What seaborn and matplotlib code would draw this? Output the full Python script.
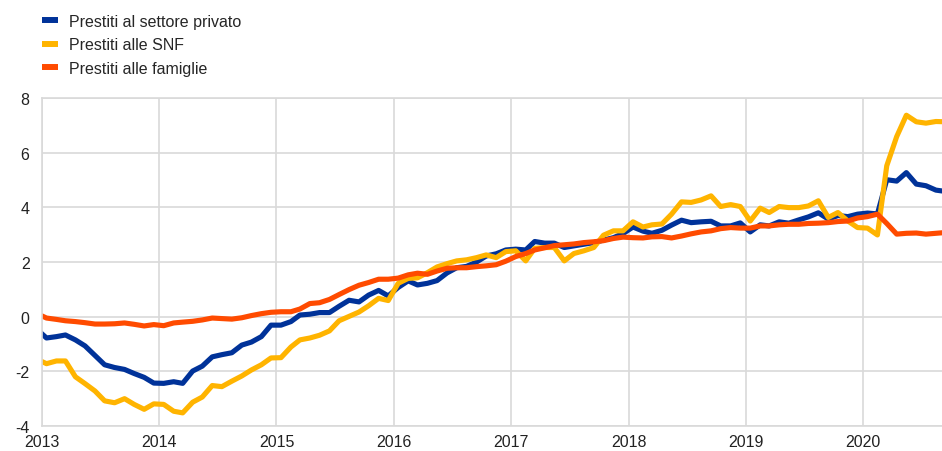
import pandas as pd
import matplotlib
matplotlib.use('Agg')
import matplotlib.pyplot as plt
import matplotlib.dates as mdates
from matplotlib.lines import Line2D
import seaborn as sns

# monthly observations, Dec 2012 - Sep 2020 (plotted mid-month)
months = pd.date_range('2012-12-01', '2020-09-01', freq='MS') + pd.Timedelta(days=14)

privato = [-0.45,
           -0.78, -0.73, -0.67, -0.85, -1.07, -1.42, -1.76, -1.86, -1.93, -2.08, -2.22, -2.43,
           -2.44, -2.38, -2.44, -1.99, -1.81, -1.47, -1.39, -1.32, -1.04, -0.93, -0.73, -0.31,
           -0.31, -0.18, 0.06, 0.09, 0.15, 0.15, 0.38, 0.60, 0.54, 0.79, 0.96, 0.76,
           1.07, 1.31, 1.16, 1.22, 1.32, 1.60, 1.79, 1.84, 2.00, 2.22, 2.30, 2.44,
           2.47, 2.44, 2.75, 2.69, 2.69, 2.53, 2.59, 2.65, 2.71, 2.80, 2.89, 3.04,
           3.28, 3.13, 3.05, 3.16, 3.35, 3.53, 3.44, 3.47, 3.49, 3.32, 3.32, 3.43,
           3.10, 3.36, 3.32, 3.47, 3.42, 3.54, 3.65, 3.80, 3.57, 3.70, 3.66, 3.75,
           3.79, 3.76, 5.01, 4.96, 5.27, 4.85, 4.79, 4.63, 4.58]

snf = [-1.55,
       -1.72, -1.62, -1.62, -2.20, -2.45, -2.72, -3.08, -3.15, -3.00, -3.21, -3.39, -3.19,
       -3.21, -3.46, -3.52, -3.13, -2.94, -2.52, -2.56, -2.36, -2.17, -1.95, -1.76, -1.51,
       -1.50, -1.11, -0.85, -0.78, -0.68, -0.52, -0.15, 0.01, 0.17, 0.40, 0.67, 0.59,
       1.22, 1.40, 1.42, 1.61, 1.82, 1.94, 2.04, 2.08, 2.16, 2.26, 2.16, 2.38,
       2.41, 2.04, 2.50, 2.53, 2.53, 2.04, 2.31, 2.41, 2.53, 2.98, 3.14, 3.14,
       3.47, 3.28, 3.36, 3.39, 3.75, 4.20, 4.18, 4.27, 4.42, 4.03, 4.10, 4.03,
       3.50, 3.97, 3.81, 4.03, 3.99, 3.99, 4.05, 4.24, 3.63, 3.81, 3.50, 3.26,
       3.24, 2.99, 5.52, 6.59, 7.37, 7.13, 7.08, 7.14, 7.13]

famiglie = [0.12,
            -0.05, -0.10, -0.15, -0.18, -0.22, -0.27, -0.27, -0.26, -0.23, -0.28, -0.34, -0.29,
            -0.33, -0.23, -0.20, -0.17, -0.12, -0.05, -0.07, -0.09, -0.04, 0.04, 0.11, 0.16,
            0.18, 0.18, 0.28, 0.48, 0.51, 0.63, 0.81, 0.99, 1.15, 1.25, 1.37, 1.37,
            1.41, 1.53, 1.59, 1.55, 1.67, 1.77, 1.79, 1.79, 1.83, 1.86, 1.90, 2.03,
            2.20, 2.31, 2.44, 2.52, 2.60, 2.63, 2.66, 2.71, 2.74, 2.78, 2.86, 2.91,
            2.89, 2.88, 2.92, 2.93, 2.88, 2.95, 3.03, 3.10, 3.14, 3.22, 3.26, 3.24,
            3.24, 3.32, 3.32, 3.36, 3.38, 3.38, 3.41, 3.42, 3.44, 3.48, 3.50, 3.61,
            3.66, 3.75, 3.41, 3.02, 3.05, 3.06, 3.02, 3.05, 3.08]

labels = ['Prestiti al settore privato', 'Prestiti alle SNF', 'Prestiti alle famiglie']
colors = ['#003299', '#FFB400', '#FF4B00']

df = pd.DataFrame({'date': months, labels[0]: privato, labels[1]: snf, labels[2]: famiglie})

sns.set_theme(style='white')
plt.rcParams['font.family'] = ['Liberation Sans', 'DejaVu Sans']
plt.rcParams['axes.unicode_minus'] = False

fig, ax = plt.subplots(figsize=(9.42, 4.52), dpi=100)
fig.subplots_adjust(left=42/942, right=1.0, bottom=1-427/452, top=1-99/452)

for lab, col in zip(labels, colors):
    sns.lineplot(data=df, x='date', y=lab, ax=ax, color=col, linewidth=3.7, legend=False)

ax.set_xlim(pd.Timestamp('2013-01-01'), pd.Timestamp('2020-09-03'))
ax.set_ylim(-4, 8)
ax.set_yticks(range(-4, 9, 2))
ax.xaxis.set_major_locator(mdates.YearLocator())
ax.xaxis.set_major_formatter(mdates.DateFormatter('%Y'))
ax.set_xlabel('')
ax.set_ylabel('')

ax.grid(True, color='#d9d9d9', linewidth=1.2)
ax.set_axisbelow(True)
for side in ['left', 'bottom', 'top']:
    ax.spines[side].set_color('#d9d9d9')
    ax.spines[side].set_linewidth(1.2)
ax.spines['right'].set_visible(False)
ax.tick_params(axis='both', length=0, labelsize=11.5, colors='#222222')
ax.tick_params(axis='x', pad=5.5)
ax.tick_params(axis='y', pad=9)

#legend with short flat bars
handles = [Line2D([0], [0], color=c, linewidth=4.3, solid_capstyle='butt') for c in colors]
fig.legend(handles, labels, loc='upper left', bbox_to_anchor=(41.5/942, 1-15/452),
           frameon=False, fontsize=11.5, handlelength=1.04, handletextpad=0.67,
           labelspacing=0.52, borderpad=0, borderaxespad=0)

plt.savefig('out.png', dpi=100)
